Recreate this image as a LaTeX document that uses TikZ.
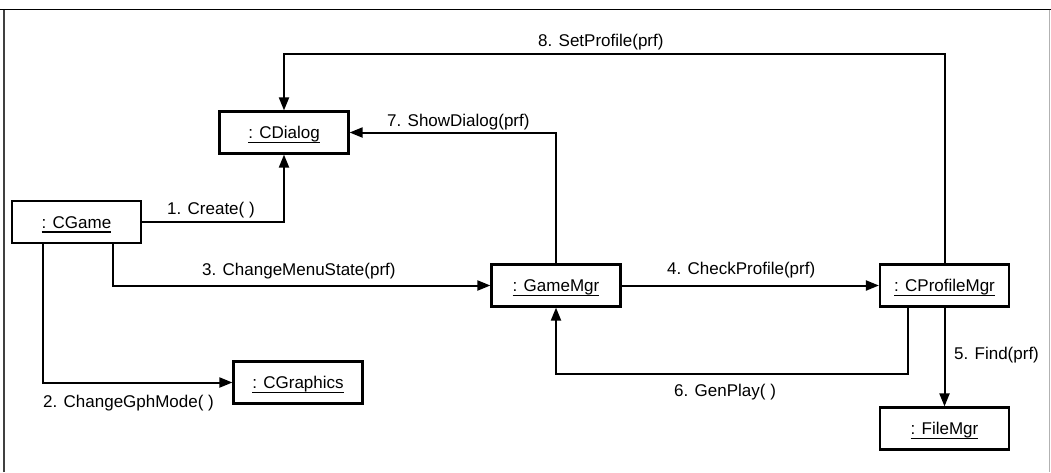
\documentclass[tikz,border=0pt]{standalone}
\usepackage{fontspec}
\setmainfont{Liberation Sans}
\usetikzlibrary{arrows.meta}
\newcommand{\uln}[1]{\vtop{\hbox{\raisebox{0pt}[\height][0pt]{#1}}\kern3.4pt\hrule height 1.2pt}}
\begin{document}
\begin{tikzpicture}[x=1pt,y=-1pt,
  obj/.style={draw, line width=2.2pt, minimum width=129pt, minimum height=42pt, inner sep=0pt, text height=12pt, text depth=0pt, font=\fontsize{17}{20}\selectfont},
  msg/.style={line width=2pt, -{Triangle[length=13pt,width=10pt]}},
  lbl/.style={anchor=base west, inner sep=0pt, font=\fontsize{17}{20}\selectfont}]
\useasboundingbox (0,0) rectangle (1051,472);
% frame
\draw[line width=1.4pt, black!75] (4,472) -- (4,9.5);
\draw[line width=1.8pt] (0,9.5) -- (1051,9.5);
\draw[line width=0.8pt, black!30] (1049,9.5) -- (1049,472);
% objects
\node[obj] (cgame) at (76.5,222) {\uln{: CGame}};
\node[obj] (cdialog) at (284,132.5) {\uln{: CDialog}};
\node[obj] (cgraphics) at (298,382.5) {\uln{: CGraphics}};
\node[obj] (gamemgr) at (556,285.5) {\uln{: GameMgr}};
\node[obj] (cprofile) at (944.5,285.5) {\uln{: CProfileMgr}};
\node[obj] (filemgr) at (944.5,428.5) {\uln{: FileMgr}};
% helper coordinates
\coordinate (c2) at (43,0);
\coordinate (c3) at (113,0);
\coordinate (c6) at (908,374);
\coordinate (c8) at (944.5,54);
% messages
\draw[msg] (cgame.east) -| (cdialog.south);
\draw[msg] (cgame.south -| c2) |- (cgraphics.west);
\draw[msg] (cgame.south -| c3) |- (gamemgr.west);
\draw[msg] (gamemgr.east) -- (cprofile.west);
\draw[msg] (cprofile.south) -- (filemgr.north);
\draw[msg] (cprofile.south -| c6) -- (c6) -| (gamemgr.south);
\draw[msg] (gamemgr.north) |- (cdialog.east);
\draw[msg] (cprofile.north) -- (c8) -| (cdialog.north);
% labels
\node[lbl] (l1) at (167,214) {1. Create( )};
\node[lbl] (l2) at (43,407) {2. ChangeGphMode( )};
\node[lbl] (l3) at (202,275) {3. ChangeMenuState(prf)};
\node[lbl] (l4) at (667,274) {4. CheckProfile(prf)};
\node[lbl] (l5) at (954,359) {5. Find(prf)};
\node[lbl] (l6) at (674,396) {6. GenPlay( )};
\node[lbl] (l7) at (387,126) {7. ShowDialog(prf)};
\node[lbl] (l8) at (538,46) {8. SetProfile(prf)};
\end{tikzpicture}
\end{document}
